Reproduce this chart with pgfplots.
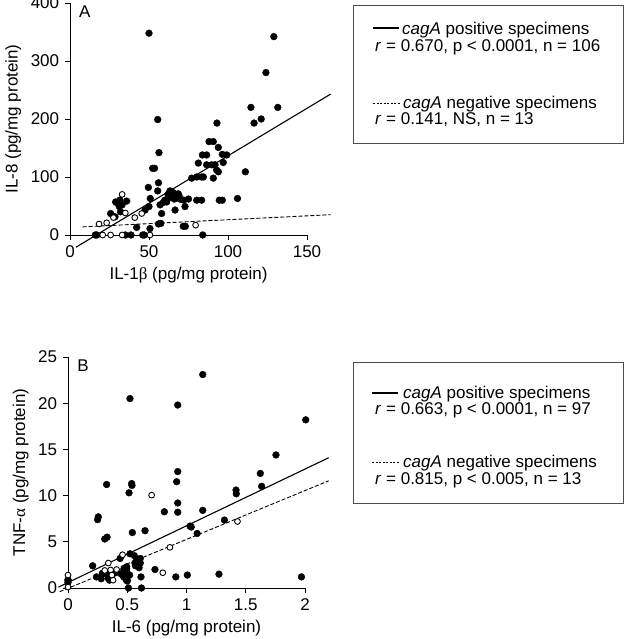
\documentclass[border=0pt]{standalone}
\usepackage{pgfplots}
\pgfplotsset{compat=1.18}
\usepackage{fontspec}
\setmainfont{Liberation Sans}
\newfontfamily\greek{Liberation Serif}

\pgfplotstableread{
x y
50 348
129 342
124 280
114.5 220
131.5 220
121 200
116.5 193
55.5 199
93 193
88 161
90.7 161
93.9 151
83.8 138
86.5 138
96.4 139
99.2 138
81.2 124
86.5 121
89.7 121
91.8 121
97 125
92.8 112
93.9 109
90.7 98
80.2 100
83.3 100
84.4 100
77 98
111 109
80.2 60
83.3 60
94.5 60
96.4 60
106 63
84 0
56.3 142
52.3 115
53.5 115
56 90
49.6 82
55.5 76
63.3 76
65.4 73
68.5 71
67 63
70 61.5
72 60
72.8 49
61.2 57
66.5 43
57 52
58 37
50.8 63
50 49
47.5 43
56 19
57.5 20
50.6 11
42.2 13
71.7 15
73 15
28.9 57
31.6 60
35.9 58.5
31.2 49
32 40
25.7 37
28.5 31.5
30 55
33 52
62 70
64 65
69 68
60 60
75 62
66 62
59 56
16 0
17 0
35 0
38.6 0
46 0
47 0
}\posA

\pgfplotstableread{
x y
18.4 19
23.2 21
33 70
35 38
41 30
45.4 37
79.5 17
20.7 0
25.7 0
33 0
50.6 0
27.5 30
}\negA

\pgfplotstableread{
x y
1.137 23.1
0.523 20.5
0.926 19.8
2.006 18.2
1.755 14.4
1.623 12.4
1.634 11.0
0.926 12.6
0.917 11.5
0.926 9.2
0.926 8.2
0.813 8.25
1.137 8.4
0.326 11.2
0.537 11.3
0.54 11.1
0.515 10.3
1.418 10.6
1.42 10.2
0.256 7.7
0.25 7.4
0.33 5.5
0.31 5.3
0.543 6.0
0.65 6.2
1.03 6.7
1.04 6.6
1.09 5.9
1.32 7.35
0.208 2.4
0.24 1.2
0.44 3.2
0.523 3.7
0.56 3.5
0.58 3.1
0.61 3.2
0.565 2.7
0.61 2.7
0.60 2.2
0.495 2.3
0.495 2.1
0.49 1.9
0.50 1.6
0.495 1.2
0.49 0.9
0.50 0.85
0.50 0.75
0.51 0
0.62 0
0.734 2.0
0.91 1.2
1.007 1.4
0.616 1.2
1.274 1.5
1.97 1.2
0.29 1.6
0.326 1.5
0.39 1.6
0.34 1.05
0.35 0.85
0.41 1.7
0.28 1.0
0 0.9
0 0.6
0 0.8
0.47 2.0
0.45 1.5
0.52 1.4
0.47 1.2
0.36 1.2
0.57 2.4
}\posB

\pgfplotstableread{
x y
0 1.4
0 0.1
0.34 2.7
0.46 3.6
0.31 1.9
0.36 1.95
0.41 2.0
0.38 0.85
0.706 10.05
0.80 1.65
0.86 4.4
1.43 7.2
0.37 1.4
}\negB

\begin{document}
\fontsize{17pt}{17pt}\selectfont
\begin{tikzpicture}[x=1pt,y=1pt]
\useasboundingbox (0pt,0pt) rectangle (625pt,639pt);
\pgfplotsset{
  every axis/.append style={
    scale only axis, width=237pt, clip=false,
    axis lines*=left, tick align=outside,
    major tick length=5pt,
    axis line style={line width=0.9pt},
    tick style={line width=0.9pt, black},
    /pgf/number format/assume math mode=true,
    tick label style={font=\fontsize{17pt}{17pt}\selectfont},
    label style={font=\fontsize{17pt}{17pt}\selectfont},
    anchor=south west,
  },
  pos/.style={only marks, mark=*, mark size=3.4pt, mark options={fill=black, draw=black}},
  neg/.style={only marks, mark=*, mark size=2.9pt, mark options={fill=white, draw=black, line width=0.9pt}},
}
% panel A
\begin{axis}[at={(70pt,404pt)}, height=232pt,
  xmin=0, xmax=150, ymin=0, ymax=400,
  xtick={0,50,100,150}, ytick={0,100,200,300,400},
  xlabel={IL-1{\greek β} (pg/mg protein)},
  ylabel={IL-8 (pg/mg protein)},
  xlabel style={yshift=2pt}, ylabel style={yshift=-2pt}]
\addplot[pos] table {\posA};
\addplot[neg] table {\negA};
\addplot[black, line width=1.1pt] coordinates {(3.8,-21) (165,243)};
\addplot[black, line width=0.9pt, dash pattern=on 4pt off 2pt] coordinates {(8,14) (165,35)};
\node[anchor=north west] at (axis cs:2,405) {A};
\end{axis}
% panel B
\begin{axis}[at={(68pt,51pt)}, height=231pt,
  xmin=0, xmax=2, ymin=0, ymax=25,
  xtick={0,0.5,1,1.5,2}, ytick={0,5,10,15,20,25},
  xlabel={IL-6 (pg/mg protein)},
  ylabel={TNF-{\greek α} (pg/mg protein)},
  xlabel style={yshift=2pt}, ylabel style={yshift=-2pt}]
\addplot[pos] table {\posB};
\addplot[neg] table {\negB};
\addplot[black, line width=1.1pt] coordinates {(-0.08,0.1) (2.2,14.1)};
\addplot[black, line width=0.9pt, dash pattern=on 4pt off 2pt] coordinates {(-0.07,-0.4) (2.2,11.6)};
\node[anchor=north west] at (axis cs:0.03,25.3) {B};
\end{axis}
% legend boxes
\draw[line width=0.9pt, black!70] (353pt,634pt) rectangle (623pt,496pt);
\draw[line width=1.1pt] (373pt,611pt) -- (399pt,611pt);
\node[anchor=base west, inner sep=0] at (402pt,604pt) {\textit{cagA} positive specimens};
\node[anchor=base west, inner sep=0] at (375pt,587pt) {\textit{r} = 0.670, p < 0.0001, n = 106};
\draw[line width=0.9pt, dash pattern=on 2pt off 1.5pt] (373pt,536pt) -- (400pt,536pt);
\node[anchor=base west, inner sep=0] at (403pt,530pt) {\textit{cagA} negative specimens};
\node[anchor=base west, inner sep=0] at (375pt,514pt) {\textit{r} = 0.141, NS, n = 13};

\draw[line width=0.9pt, black!70] (353pt,277pt) rectangle (623pt,136pt);
\draw[line width=1.1pt] (372pt,246pt) -- (398pt,246pt);
\node[anchor=base west, inner sep=0] at (403pt,240pt) {\textit{cagA} positive specimens};
\node[anchor=base west, inner sep=0] at (375pt,224pt) {\textit{r} = 0.663, p < 0.0001, n = 97};
\draw[line width=0.9pt, dash pattern=on 2pt off 1.5pt] (372pt,177pt) -- (400pt,177pt);
\node[anchor=base west, inner sep=0] at (403pt,171pt) {\textit{cagA} negative specimens};
\node[anchor=base west, inner sep=0] at (375pt,154pt) {\textit{r} = 0.815, p < 0.005, n = 13};
\end{tikzpicture}
\end{document}
